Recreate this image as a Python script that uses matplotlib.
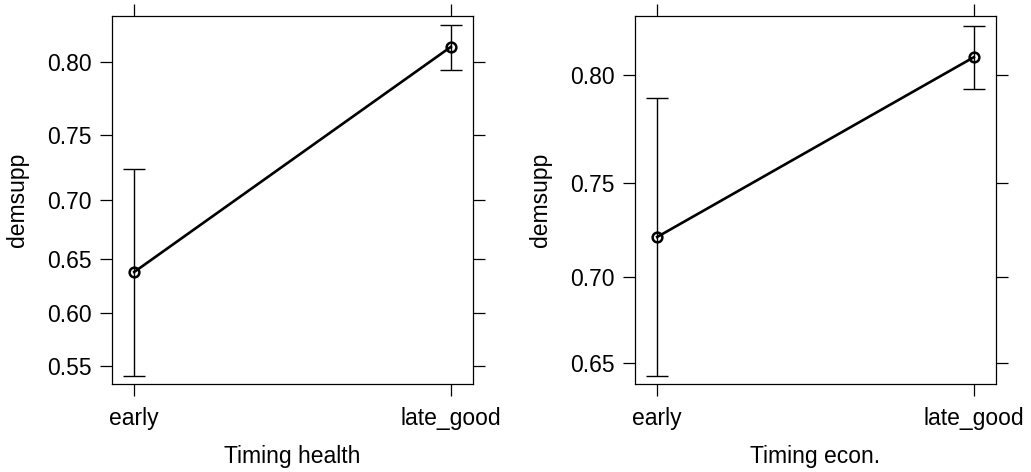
import matplotlib
matplotlib.use("Agg")
import matplotlib.pyplot as plt
from matplotlib.ticker import FixedLocator, FixedFormatter, NullLocator

plt.rcParams['font.family'] = ['Liberation Sans', 'DejaVu Sans']

categories = ["early", "late_good"]

# Panel 1: Timing health
health_fit = [0.638, 0.809]
health_lower = [0.540, 0.795]
health_upper = [0.725, 0.822]
health_ticks = [0.55, 0.60, 0.65, 0.70, 0.75, 0.80]
health_ylim = (0.5326, 0.8269)

# Panel 2: Timing econ.
econ_fit = [0.722, 0.8075]
econ_lower = [0.642, 0.794]
econ_upper = [0.790, 0.8202]
econ_ticks = [0.65, 0.70, 0.75, 0.80]
econ_ylim = (0.637, 0.824)

panels = [
    ("Timing health", health_fit, health_lower, health_upper, health_ticks, health_ylim),
    ("Timing econ.", econ_fit, econ_lower, econ_upper, econ_ticks, econ_ylim),
]

W, H = 1031, 472
fig = plt.figure(figsize=(W / 100, H / 100), dpi=100)

boxes = [(112, 16, 473, 384), (635, 16, 996, 384)]

for (xlabel, fit, lo, hi, ticks, ylim), (x0, y0, x1, y1) in zip(panels, boxes):
    ax = fig.add_axes([x0 / W, 1 - y1 / H, (x1 - x0) / W, (y1 - y0) / H])
    xs = list(range(1, len(categories) + 1))
    ax.set_yscale('logit')
    yerr = [[f - l for f, l in zip(fit, lo)], [h - f for f, h in zip(fit, hi)]]
    ax.errorbar(xs, fit, yerr=yerr, fmt='none', ecolor='black', elinewidth=1.0,
                capsize=8, capthick=1.0, zorder=2)
    ax.plot(xs, fit, color='black', linewidth=1.9, marker='o', markersize=7,
            markerfacecolor='none', markeredgewidth=1.8, markeredgecolor='black', zorder=3)
    ax.set_xlim(0.93, 2.07)
    ax.set_ylim(*ylim)
    ax.yaxis.set_major_locator(FixedLocator(ticks))
    ax.yaxis.set_major_formatter(FixedFormatter([f"{t:.2f}" for t in ticks]))
    ax.yaxis.set_minor_locator(NullLocator())
    ax.set_xticks(xs)
    ax.set_xticklabels(categories)
    ax.tick_params(axis='both', which='major', direction='out', length=8.5, width=0.9,
                   labelsize=16.5, colors='black')
    ax.tick_params(axis='x', pad=8)
    ax.tick_params(axis='y', pad=6)
    ax.tick_params(axis='x', top=True, labeltop=False)
    ax.tick_params(axis='y', right=True, labelright=False)
    for s in ax.spines.values():
        s.set_linewidth(0.9)
    ax.set_xlabel(xlabel, fontsize=16.5, labelpad=11)
    ax.set_ylabel("demsupp", fontsize=16.5, labelpad=13)

fig.savefig("out.png", dpi=100)
